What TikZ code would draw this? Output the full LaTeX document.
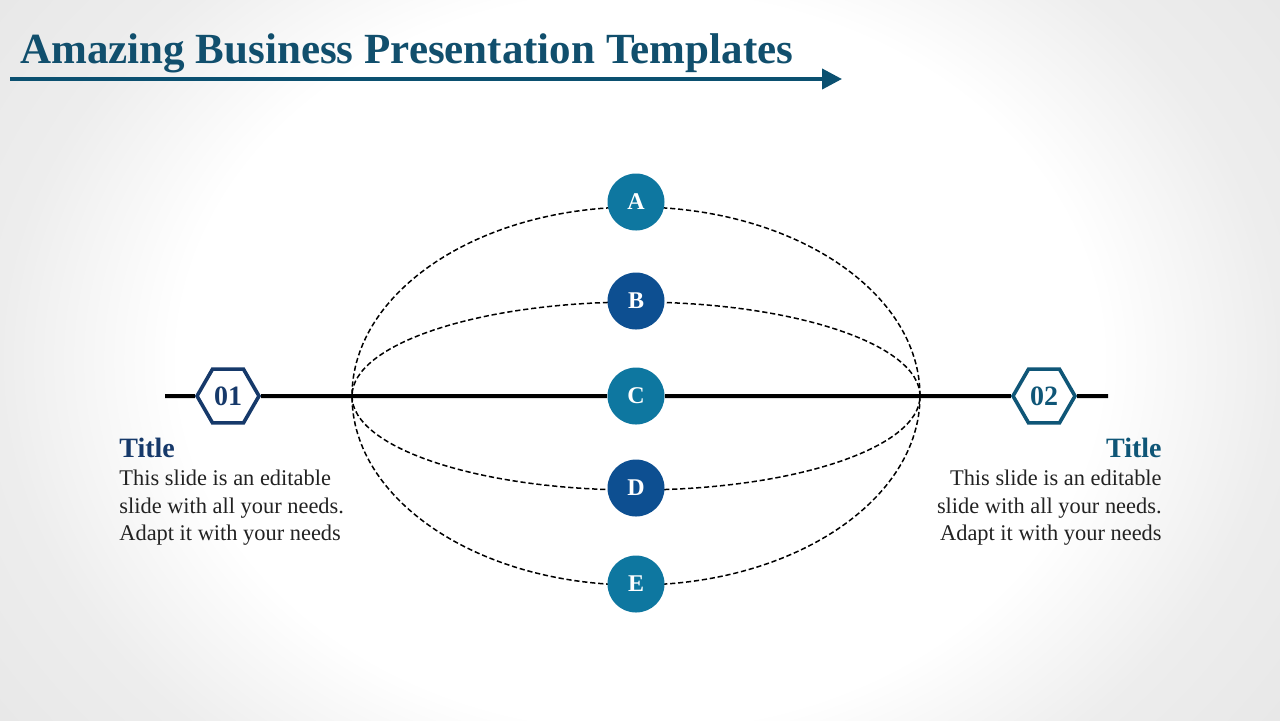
\documentclass[tikz,border=0pt]{standalone}
\usepackage{fontspec}
\setmainfont{Liberation Serif}
\usetikzlibrary{shapes.geometric,arrows.meta}
\definecolor{cTitle}{HTML}{114F6D}
\definecolor{cArrow}{HTML}{0B5070}
\definecolor{cTealC}{HTML}{0E77A0}
\definecolor{cNavyC}{HTML}{0D4F91}
\definecolor{cHexA}{HTML}{16396A}
\definecolor{cHexB}{HTML}{0F5677}
\definecolor{cBody}{HTML}{222222}
\pgfdeclareradialshading{vign}{\pgfpoint{0bp}{0bp}}{color(0bp)=(white); color(18bp)=(white); color(25bp)=(black!7); color(36bp)=(black!11); color(50bp)=(black!11)}
\tikzset{
  dot/.style={circle, fill=#1, minimum size=28.5pt, inner sep=0pt, text=white, font=\fontsize{12}{14}\selectfont\bfseries},
  hexnode/.style={regular polygon, regular polygon sides=6, draw=#1, fill=white, line width=1.8pt, minimum size=31pt, inner sep=0pt, text=#1, font=\fontsize{14}{16}\selectfont\bfseries},
  orbit/.style={ellipse, draw=black, dash pattern=on 2.6pt off 1.4pt, line width=0.75pt, inner sep=0pt, minimum width=284pt},
  axisline/.style={black, line width=2pt},
  bodytext/.style={anchor=base #1, inner sep=0pt, text=cBody, font=\fontsize{11.2}{13.5}\selectfont},
  headtext/.style={anchor=base #1, inner sep=0pt, font=\fontsize{14}{16}\selectfont\bfseries}
}
\begin{document}
\begin{tikzpicture}[x=0.5pt,y=-0.5pt]
\useasboundingbox (0,0) rectangle (1280,720);
\begin{scope}
\clip (0,0) rectangle (1280,720);
\shade[shading=vign] (0,-150) rectangle (1280,870);
\end{scope}
% heading
\node[anchor=base west, inner sep=0pt, text=cTitle, font=\fontsize{21.5}{25}\selectfont\bfseries] (title) at (20,63) {Amazing Business Presentation Templates};
\coordinate (a0) at (10,79);
\coordinate (a1) at (842,79);
\draw[cArrow, line width=2pt, -{Triangle[length=10pt,width=10pt]}] (a0) -- (a1);
% orbits
\node[orbit, minimum height=189pt] (eo) at (636,396) {};
\node[orbit, minimum height=94pt] (ei) at (636,396) {};
% axis
\coordinate (lstart) at (165,396);
\coordinate (rend) at (1108,396);
\node[hexnode=cHexA] (h1) at (228,396) {01};
\node[hexnode=cHexB] (h2) at (1044,396) {02};
\node[dot=cTealC] (C) at (636,396) {C};
\draw[axisline] (lstart) -- (h1.west);
\draw[axisline] (h1.east) -- (C.west);
\draw[axisline] (C.east) -- (h2.west);
\draw[axisline] (h2.east) -- (rend);
% dots
\node[dot=cTealC] (A) at (636,202) {A};
\node[dot=cNavyC] (B) at (636,301) {B};
\node[dot=cNavyC] (D) at (636,488) {D};
\node[dot=cTealC] (E) at (636,584) {E};
% left text
\node[headtext=west, text=cHexA] (lt) at (119,457) {Title};
\node[bodytext=west] (l1) at (119,485) {This slide is an editable};
\node[bodytext=west] (l2) at (119,513) {slide with all your needs.};
\node[bodytext=west] (l3) at (119,540) {Adapt it with your needs};
% right text
\node[headtext=east, text=cHexB] (rt) at (1162,457) {Title};
\node[bodytext=east] (r1) at (1162,485) {This slide is an editable};
\node[bodytext=east] (r2) at (1162,513) {slide with all your needs.};
\node[bodytext=east] (r3) at (1162,540) {Adapt it with your needs};
\end{tikzpicture}
\end{document}
